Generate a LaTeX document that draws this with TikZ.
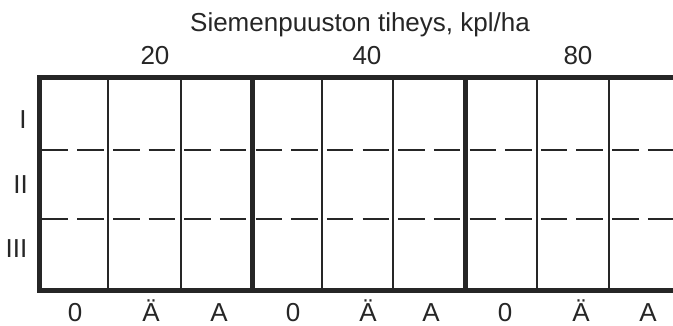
\documentclass[tikz,border=0pt]{standalone}
\usepackage{fontspec}
\setmainfont{Liberation Sans}
\tikzset{
  frame/.style = {
    draw=black!85, line width=5pt, line join=miter
  },
  divider/.style = {
    draw=black!85, line width=5pt
  },
  cell/.style = {
    draw=black!85, line width=2pt
  },
  rowline/.style = {
    draw=black!85, line width=2.2pt,
    dash pattern=on 26.5pt off 9.15pt, dash phase=32.95pt
  },
  lbl/.style = {
    font=\fontsize{26}{30}\selectfont, text=black!85,
    inner sep=0pt, anchor=base
  },
  foot/.style = {
    lbl, text depth=0pt
  }
}

\begin{document}
\begin{tikzpicture}[x=1pt, y=-1pt]

    \useasboundingbox (0,0) rectangle (673,326);

    % ------------------------------------------------------------- Headings
    \node [lbl] (title) at (360, 32) {Siemenpuuston tiheys, kpl/ha};
    \node [lbl] (d20)   at (155, 65) {20};
    \node [lbl] (d40)   at (367, 65) {40};
    \node [lbl] (d80)   at (578, 65) {80};

    % ------------------------------------------------------------ Row labels
    \node [lbl] (row1) at (23,   129) {I};
    \node [lbl] (row2) at (20.5, 194) {II};
    \node [lbl] (row3) at (16.5, 258) {III};

    % --------------------------------------------------------- Column labels
    \node [foot] (c1) at (75,  322) {0};
    \node [foot] (c2) at (151, 322) {Ä};
    \node [foot] (c3) at (219, 322) {A};
    \node [foot] (c4) at (293, 322) {0};
    \node [foot] (c5) at (368, 322) {Ä};
    \node [foot] (c6) at (431, 322) {A};
    \node [foot] (c7) at (505, 322) {0};
    \node [foot] (c8) at (581, 322) {Ä};
    \node [foot] (c9) at (648, 322) {A};

    % ------------------------------------------------------- Dashed row lines
    \draw [rowline] (39, 150) -- (673, 150);
    \draw [rowline] (39, 219) -- (673, 219);

    % ------------------------------------------------------------ Thin cells
    \draw [cell] (108, 77.5) -- (108, 291);
    \draw [cell] (181, 77.5) -- (181, 291);
    \draw [cell] (322, 77.5) -- (322, 291);
    \draw [cell] (393, 77.5) -- (393, 291);
    \draw [cell] (536.5, 77.5) -- (536.5, 291);
    \draw [cell] (609, 77.5) -- (609, 291);

    % ------------------------------------------------------ Density dividers
    \draw [divider] (252.5, 77.5) -- (252.5, 291);
    \draw [divider] (465.5, 77.5) -- (465.5, 291);

    % ----------------------------------------------------------------- Frame
    \draw [frame] (673, 77.5) -- (39, 77.5) -- (39, 291) -- (673, 291);

\end{tikzpicture}
\end{document}
